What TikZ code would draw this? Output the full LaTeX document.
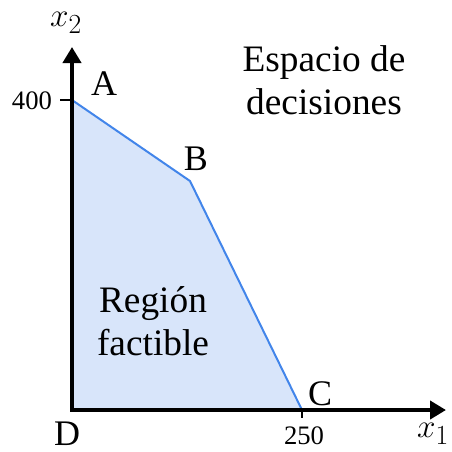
\documentclass[tikz,border=0pt]{standalone}
\usepackage{amsmath}
\usepackage{fontspec}
\setmainfont{Liberation Serif}
\usepackage{tikz}
\usetikzlibrary{shapes,arrows,arrows.meta}
\definecolor{regionfill}{RGB}{216,229,250}
\definecolor{regionline}{RGB}{66,133,234}
\tikzstyle{axis} = [draw, line width=3pt, -{Triangle[length=12pt,width=13.5pt]}]
\tikzstyle{line} = [draw, regionline, line width=1.5pt, line join=round]
\tikzstyle{tick} = [draw, line width=1pt]
\tikzstyle{corner} = [inner sep=0pt, anchor=base, font=\fontsize{27}{30}\selectfont]
\tikzstyle{value} = [inner sep=0pt, anchor=base, font=\fontsize{20}{24}\selectfont]
\tikzstyle{textblock} = [inner sep=0pt, align=center, font=\fontsize{28}{32}\selectfont]
\tikzstyle{varname} = [inner sep=0pt, font=\fontsize{29}{32}\selectfont]
\begin{document}
\begin{tikzpicture}[x=0.75pt, y=-0.75pt]
 \useasboundingbox (0,0) rectangle (452,451);
 % Corners of the region
   \coordinate (D) at (72,410);
   \coordinate (A) at (72,100);
   \coordinate (B) at (190,181);
   \coordinate (C) at (302,410);
   \coordinate (xend) at (446,410);
   \coordinate (yend) at (72,47);
   \coordinate (tickA) at (60,100);
   \coordinate (tickC) at (302,418);
   \fill[regionfill] (D) -- (A) -- (B) -- (C) -- cycle;

 % Place nodes
    \node[corner] (lA) at (104,95) {A};
    \node[corner] (lB) at (196,170) {B};
    \node[corner] (lC) at (320,405) {C};
    \node[corner] (lD) at (67,445) {D};
    \node[value] (v400) at (32,109) {400};
    \node[value] (v250) at (304,444) {250};
    \node[varname] (x1) at (433,434) {$x_1$};
    \node[varname] (x2) at (66,23) {$x_2$};
    \node[textblock] (espacio) at (324,80) {Espacio de\\decisiones};
    \node[textblock] (region) at (153,321) {Región\\factible};

    % Draw edges
   \path [line] (A) -- (B) -- (C);
   \path [tick] (tickA) -- (A); \path [tick] (C) -- (tickC);
   \path [axis] (D) -- (yend); \path [axis] (D) -- (xend);
   \fill (D) ++(-1.5pt,-1.5pt) rectangle ++(3pt,3pt);
\end{tikzpicture}
\end{document}
